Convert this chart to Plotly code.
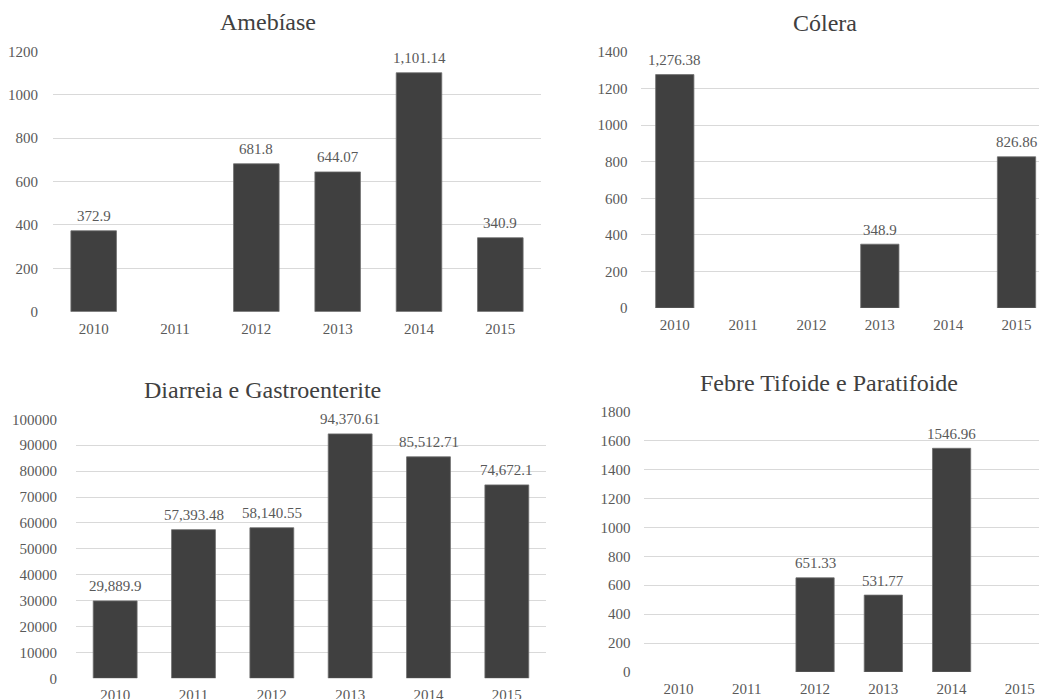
import plotly.graph_objects as go

# ---------------- data ----------------
years = ["2010", "2011", "2012", "2013", "2014", "2015"]
amebiase = [372.9, None, 681.8, 644.07, 1101.14, 340.9]
colera = [1276.38, None, None, 348.9, None, 826.86]
diarreia = [29889.9, 57393.48, 58140.55, 94370.61, 85512.71, 74672.1]
febre = [None, None, 651.33, 531.77, 1546.96, None]

titles = ["Amebíase", "Cólera", "Diarreia e Gastroenterite", "Febre Tifoide e Paratifoide"]
series = [amebiase, colera, diarreia, febre]
y_max = [1200, 1400, 100000, 1800]
y_step = [200, 200, 10000, 200]
label_fmt = ["{:,}", "{:,}", "{:,}", "{}"]

# ---------------- layout (pixels) ----------------
W, H = 1039, 699
FONT = "'Times New Roman', 'Liberation Serif', Tinos, 'DejaVu Serif', serif"
BAR = "#404040"
TXT = "#595959"
GRID = "#d9d9d9"

geom = [
    dict(x0=53.0, x1=541.0, ytop=51.3, ybot=311.7, tx=268, ty=22, gap=14),
    dict(x0=640.6, x1=1050.7, ytop=52.0, ybot=308.0, tx=825, ty=23, gap=12),
    dict(x0=76.0, x1=546.0, ytop=419.3, ybot=678.3, tx=262, ty=390, gap=18),
    dict(x0=644.4, x1=1054.0, ytop=411.7, ybot=672.0, tx=829, ty=383, gap=13),
]

fig = go.Figure()
annotations = []
layout = {}

for i, (title, vals, g) in enumerate(zip(titles, series, geom)):
    n = i + 1
    xa = "x" if n == 1 else f"x{n}"
    ya = "y" if n == 1 else f"y{n}"
    fig.add_trace(go.Bar(
        x=years, y=vals, xaxis=xa, yaxis=ya,
        marker=dict(color=BAR, line=dict(color="#6e6e6e", width=0.8)),
        hoverinfo="x+y", showlegend=False,
    ))
    vis_end = min(g["x1"], W)
    rmax = -0.5 + len(years) * (vis_end - g["x0"]) / (g["x1"] - g["x0"])
    xkey = "xaxis" if n == 1 else f"xaxis{n}"
    ykey = "yaxis" if n == 1 else f"yaxis{n}"
    layout[xkey] = dict(
        domain=[g["x0"] / W, vis_end / W], anchor=ya, type="category",
        categoryorder="array", categoryarray=years,
        range=[-0.5, rmax], showgrid=False, zeroline=False, automargin=False,
        showline=False, ticks="", ticklabelstandoff=6,
        tickfont=dict(family=FONT, size=15, color=TXT), fixedrange=True,
    )
    layout[ykey] = dict(
        domain=[1 - g["ybot"] / H, 1 - g["ytop"] / H], anchor=xa,
        range=[0, y_max[i]], dtick=y_step[i], tick0=0, tickformat="d",
        showgrid=True, gridcolor=GRID, gridwidth=1.3, zeroline=False, automargin=False,
        showline=False, ticks="", ticklabelstandoff=g["gap"],
        tickfont=dict(family=FONT, size=15, color=TXT), fixedrange=True,
    )
    annotations.append(dict(
        text=title, x=g["tx"] / W, y=1 - g["ty"] / H, xref="paper", yref="paper",
        xanchor="center", yanchor="middle", showarrow=False,
        font=dict(family=FONT, size=24, color="#404040"),
    ))
    for j, v in enumerate(vals):
        if v is None:
            continue
        annotations.append(dict(
            text=label_fmt[i].format(v), x=j, y=v, xref=xa, yref=ya,
            xanchor="center", yanchor="middle", yshift=14.5, showarrow=False,
            font=dict(family=FONT, size=15, color=TXT),
        ))

fig.update_layout(
    width=W, height=H, margin=dict(l=0, r=0, t=0, b=0, pad=0, autoexpand=False),
    paper_bgcolor="white", plot_bgcolor="white", font=dict(family=FONT),
    bargap=0.44, annotations=annotations, **layout,
)

fig.write_html("out.html")
